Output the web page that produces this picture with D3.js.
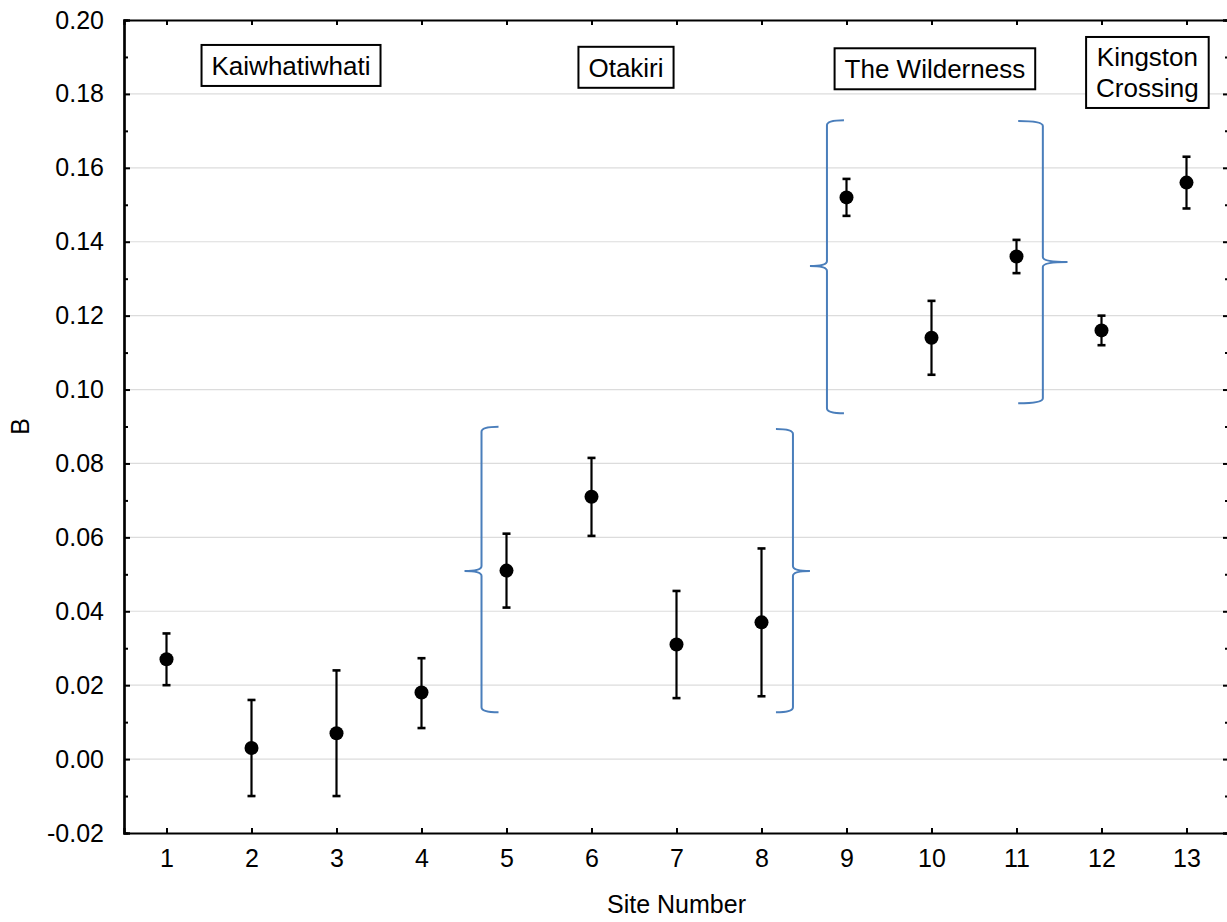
<!DOCTYPE html>
<html>
<head>
<meta charset="utf-8">
<script src="https://cdn.jsdelivr.net/npm/d3@7"></script>
<style>
  html, body { margin: 0; padding: 0; background: #fff; }
  svg { display: block; font-family: "Liberation Sans", Arial, sans-serif; }
</style>
</head>
<body>
<svg id="chart" width="1227" height="922"></svg>
<script>
// ---- data ----
const sites   = [1, 2, 3, 4, 5, 6, 7, 8, 9, 10, 11, 12, 13];
const means   = [0.027, 0.003, 0.007, 0.018, 0.051, 0.071, 0.031, 0.037, 0.152, 0.114, 0.136, 0.116, 0.156];
const upper   = [0.034, 0.016, 0.024, 0.0273, 0.061, 0.0815, 0.0455, 0.057, 0.157, 0.124, 0.1405, 0.120, 0.163];
const lower   = [0.020, -0.010, -0.010, 0.0084, 0.041, 0.0604, 0.0165, 0.017, 0.147, 0.104, 0.1315, 0.112, 0.149];
const yTicks  = [-0.02, 0.00, 0.02, 0.04, 0.06, 0.08, 0.10, 0.12, 0.14, 0.16, 0.18, 0.20];
const yTickLabels = ["-0.02", "0.00", "0.02", "0.04", "0.06", "0.08", "0.10", "0.12", "0.14", "0.16", "0.18", "0.20"];
const yMinor  = [-0.01, 0.01, 0.03, 0.05, 0.07, 0.09, 0.11, 0.13, 0.15, 0.17, 0.19];
const xLabel  = "Site Number";
const yLabel  = "B";
// group labels (site units, value units)
const groupNames = [["Kaiwhatiwhati"], ["Otakiri"], ["The Wilderness"], ["Kingston", "Crossing"]];
const groupX     = [2.465, 6.406, 10.04, 12.54];
const groupY     = [0.1877, 0.1872, 0.1868, 0.1858];
// braces (site units, value units); side: -1 nub points left, +1 nub points right
const braceX      = [4.706, 8.37, 8.77, 11.31];
const braceTop    = [0.0899, 0.0893, 0.1729, 0.1727];
const braceBottom = [0.0127, 0.0127, 0.0936, 0.0963];
const braceMid    = [0.0509, 0.0509, 0.1334, 0.1345];
const braceSide   = [-1, 1, -1, 1];
const braceWidth  = [0.2, 0.2, 0.2, 0.29];

// ---- layout ----
const svg = d3.select("#chart");
const L = 124, R = 1229, T = 20, B = 833;
const x = d3.scaleLinear().domain([0.5, 13.5]).range([L, R]);
const y = d3.scaleLinear().domain([-0.02, 0.20]).range([B, T]);
const blue = "#4a7ebb";

// gridlines
svg.append("g").selectAll("line").data(yTicks.filter(d => d > -0.02 && d < 0.20)).join("line")
  .attr("x1", L).attr("x2", R).attr("y1", d => y(d)).attr("y2", d => y(d))
  .attr("stroke", "#dcdcdc").attr("stroke-width", 1.2);

// axes
const gL = svg.append("g").attr("transform", `translate(${L},0)`)
  .call(d3.axisLeft(y).tickValues(yTicks).tickFormat((d, i) => yTickLabels[i]).tickSize(-6).tickPadding(20));
const gLm = svg.append("g").attr("transform", `translate(${L},0)`)
  .call(d3.axisLeft(y).tickValues(yMinor).tickFormat("").tickSize(-4));
const gR = svg.append("g").attr("transform", `translate(${R},0)`)
  .call(d3.axisRight(y).tickValues(yTicks).tickFormat("").tickSize(-6));
const gRm = svg.append("g").attr("transform", `translate(${R},0)`)
  .call(d3.axisRight(y).tickValues(yMinor).tickFormat("").tickSize(-4));
const gB = svg.append("g").attr("transform", `translate(0,${B})`)
  .call(d3.axisBottom(x).tickValues(sites).tickFormat(d3.format("d")).tickSize(-5).tickPadding(16));
const gT = svg.append("g").attr("transform", `translate(0,${T})`)
  .call(d3.axisTop(x).tickValues(sites).tickFormat("").tickSize(-5));

[gL, gLm, gR, gRm, gB, gT].forEach(g => {
  g.select(".domain").attr("stroke", "#000").attr("stroke-width", 2.2);
  g.selectAll(".tick line").attr("stroke", "#000").attr("stroke-width", 2);
  g.selectAll("text").attr("fill", "#000").style("font-size", "25px")
    .style("font-family", '"Liberation Sans", Arial, sans-serif');
});
gB.selectAll("text").attr("dy", "0.71em");

// axis labels
svg.append("text").attr("x", (L + R) / 2).attr("y", 913).attr("text-anchor", "middle")
  .style("font-size", "25px").text(xLabel);
svg.append("text").attr("transform", `translate(29,${(T + B) / 2}) rotate(-90)`)
  .attr("text-anchor", "middle").style("font-size", "25px").text(yLabel);

// braces
const braceData = braceX.map((bx, i) => ({
  x: bx, top: braceTop[i], bottom: braceBottom[i], mid: braceMid[i], side: braceSide[i], w: braceWidth[i]
}));
svg.append("g").selectAll("path").data(braceData).join("path")
  .attr("fill", "none").attr("stroke", blue).attr("stroke-width", 2)
  .attr("d", d => {
    const x0 = x(d.x), w = x(d.x + d.w) - x(d.x), s = d.side;
    const yt = y(d.top), yb = y(d.bottom), ym = y(d.mid), r = 5;
    const armX = x0 - s * w, nubX = x0 + s * w;
    const p = d3.path();
    p.moveTo(armX, yt);
    p.quadraticCurveTo(x0, yt, x0, yt + r);
    p.lineTo(x0, ym - r);
    p.quadraticCurveTo(x0, ym, nubX, ym);
    p.quadraticCurveTo(x0, ym, x0, ym + r);
    p.lineTo(x0, yb - r);
    p.quadraticCurveTo(x0, yb, armX, yb);
    return p.toString();
  });

// error bars
const pts = sites.map((s, i) => ({ s, m: means[i], hi: upper[i], lo: lower[i] }));
const eb = svg.append("g").attr("stroke", "#000").attr("stroke-width", 2.2);
eb.selectAll("line.v").data(pts).join("line").attr("class", "v")
  .attr("x1", d => x(d.s)).attr("x2", d => x(d.s)).attr("y1", d => y(d.hi)).attr("y2", d => y(d.lo));
eb.selectAll("line.ct").data(pts).join("line").attr("class", "ct")
  .attr("x1", d => x(d.s) - 4).attr("x2", d => x(d.s) + 4).attr("y1", d => y(d.hi)).attr("y2", d => y(d.hi))
  .attr("stroke-width", 2.6);
eb.selectAll("line.cb").data(pts).join("line").attr("class", "cb")
  .attr("x1", d => x(d.s) - 4).attr("x2", d => x(d.s) + 4).attr("y1", d => y(d.lo)).attr("y2", d => y(d.lo))
  .attr("stroke-width", 2.6);

// points
svg.append("g").selectAll("circle").data(pts).join("circle")
  .attr("cx", d => x(d.s)).attr("cy", d => y(d.m)).attr("r", 7).attr("fill", "#000");

// group labels with boxes
const lg = svg.append("g");
groupNames.forEach((lines, i) => {
  const cx = x(groupX[i]), cy = y(groupY[i]);
  const g = lg.append("g");
  const n = lines.length;
  const t = g.append("text").attr("text-anchor", "middle").style("font-size", "26px");
  lines.forEach((ln, j) => {
    t.append("tspan").attr("x", cx).attr("y", cy + (j - (n - 1) / 2) * 31 + 9.5).text(ln);
  });
  const bb = t.node().getBBox();
  const h = 41 + 30 * (n - 1);
  g.insert("rect", "text")
    .attr("x", cx - bb.width / 2 - 10).attr("y", cy - h / 2)
    .attr("width", bb.width + 20).attr("height", h)
    .attr("fill", "#fff").attr("stroke", "#000").attr("stroke-width", 2);
});
</script>
</body>
</html>
